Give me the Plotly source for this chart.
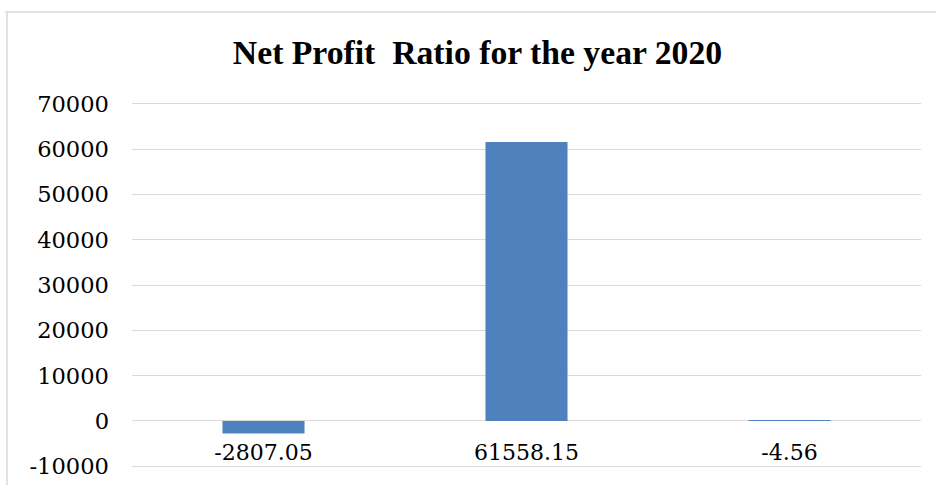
import plotly.graph_objects as go

# Net profit ratio, 2020
categories = ["-2807.05", "61558.15", "-4.56"]
values = [-2807.05, 61558.15, -4.56]
y_ticks = [-10000, 0, 10000, 20000, 30000, 40000, 50000, 60000, 70000]

W, H = 936, 485
M_L, M_R, M_T, M_B = 132, 15, 102, 17
# small padding so the outer gridlines at -10000 and 70000 are drawn
Y_MIN, Y_MAX = -10400, 70400

fig = go.Figure(
    go.Bar(
        x=categories,
        y=values,
        marker=dict(color="#4f81bd", line=dict(width=0)),
        hoverinfo="x+y",
    )
)

# place the category axis on the zero line
zero_pos = (0 - Y_MIN) / (Y_MAX - Y_MIN)

plot_w = W - M_L - M_R
plot_h = H - M_T - M_B


def px_x(p):
    return (p - M_L) / plot_w


def px_y(p):
    return (H - M_B - p) / plot_h


border = dict(color="#d9d9d9", width=1.5)

fig.update_layout(
    width=W,
    height=H,
    margin=dict(l=M_L, r=M_R, t=M_T, b=M_B, pad=0, autoexpand=False),
    paper_bgcolor="white",
    plot_bgcolor="white",
    showlegend=False,
    bargap=0.688,
    title=dict(
        text="Net Profit\u00a0 Ratio for the year 2020",
        font=dict(family="Liberation Serif", size=33.7, color="#000000", weight="bold"),
        x=477.5 / W,
        xref="container",
        xanchor="center",
        y=1 - 52 / H,
        yref="container",
        yanchor="middle",
    ),
    xaxis=dict(
        anchor="free",
        position=zero_pos,
        automargin=False,
        showgrid=False,
        showline=False,
        zeroline=False,
        ticks="",
        tickfont=dict(family="DejaVu Serif", size=22, color="#000000"),
        ticklabelstandoff=16,
    ),
    yaxis=dict(
        range=[Y_MIN, Y_MAX],
        automargin=False,
        tickvals=y_ticks,
        ticktext=[str(v) for v in y_ticks],
        showgrid=True,
        gridcolor="#d9d9d9",
        gridwidth=1,
        zeroline=False,
        showline=False,
        ticks="",
        tickfont=dict(family="DejaVu Serif", size=22.6, color="#000000"),
        ticklabelstandoff=22,
    ),
    shapes=[
        dict(type="line", xref="paper", yref="paper",
             x0=px_x(5), x1=px_x(940), y0=px_y(12), y1=px_y(12), line=border),
        dict(type="line", xref="paper", yref="paper",
             x0=px_x(7), x1=px_x(7), y0=px_y(12), y1=px_y(490), line=border),
    ],
)

fig.write_html("out.html")
